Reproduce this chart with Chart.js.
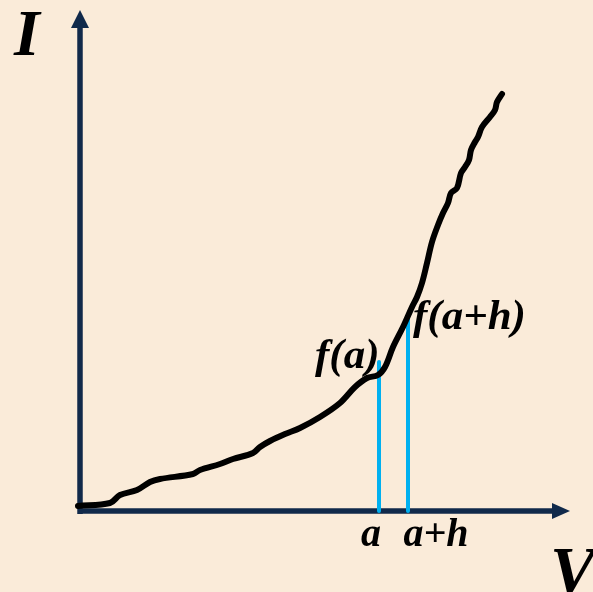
<!DOCTYPE html>
<html>
<head>
<meta charset="utf-8">
<script src="https://cdn.jsdelivr.net/npm/chart.js@4.4.0/dist/chart.umd.min.js"></script>
<style>
  html, body { margin: 0; padding: 0; background: #faebd9; }
  canvas { display: block; }
</style>
</head>
<body>
<canvas id="chart" width="593" height="592"></canvas>
<script>
// I-V curve (origin at the axes corner)
const curveV = [-2, 30, 40, 57, 70, 80, 113, 120, 140, 153, 173, 180, 190, 205, 220, 240, 260, 275, 287, 298, 305, 313, 323, 332, 337, 342, 347, 352, 358, 363, 368, 371, 377, 381, 385, 389, 391, 395, 398, 402, 410, 415, 417, 422];
const curveI = [5, 8, 16, 21, 29, 32, 37, 41, 47, 52, 58, 64, 70, 77, 83, 94, 108, 124, 133, 136, 144, 164, 184, 204, 214, 228, 248, 269, 286, 298, 308, 318, 323, 338, 344, 351, 361, 369, 374, 384, 394, 401, 409, 417];

// the two marked points a and a+h and their values
const markV = [299, 328];
const markI = [149, 194];
const markLabels = ['a', 'a+h'];
const valueLabels = ['f(a)', 'f(a+h)'];

// axis extents
const axisMaxV = 490;
const axisMaxI = 501;

const AXIS_COLOR = '#10294a';
const MARK_COLOR = '#00b0f0';

const toPoints = (xs, ys) => xs.map((x, i) => ({ x, y: ys[i] }));

const labelFont = (size) => `italic bold ${size}px "Liberation Serif", "DejaVu Serif", serif`;

// arrow heads and text labels drawn on top of the datasets
const pluginDecorations = {
  id: 'decorations',
  afterDatasetsDraw(chart) {
    const { ctx, scales: { x, y } } = chart;
    ctx.save();

    // arrow heads
    ctx.fillStyle = AXIS_COLOR;
    const x0 = x.getPixelForValue(0);
    const yTip = y.getPixelForValue(axisMaxI);
    ctx.beginPath();
    ctx.moveTo(x0, yTip);
    ctx.lineTo(x0 - 9, yTip + 18);
    ctx.lineTo(x0 + 9, yTip + 18);
    ctx.closePath();
    ctx.fill();

    const y0 = y.getPixelForValue(0);
    const xTip = x.getPixelForValue(axisMaxV);
    ctx.beginPath();
    ctx.moveTo(xTip, y0);
    ctx.lineTo(xTip - 18, y0 - 8);
    ctx.lineTo(xTip - 18, y0 + 8);
    ctx.closePath();
    ctx.fill();

    // text
    ctx.fillStyle = '#000';
    ctx.textBaseline = 'alphabetic';

    ctx.font = labelFont(66);
    ctx.textAlign = 'left';
    ctx.fillText('I', x0 - 66, y.getPixelForValue(axisMaxI) + 45);

    ctx.font = labelFont(68);
    ctx.fillText('V', xTip - 20, y0 + 82);

    ctx.font = labelFont(40);
    ctx.textAlign = 'center';
    markLabels.forEach((t, i) => {
      const px = x.getPixelForValue(markV[i]);
      const off = i === 0 ? -8 : 28;
      ctx.fillText(t, px + off, y0 + 35);
    });

    ctx.font = labelFont(43);
    ctx.textAlign = 'left';
    ctx.fillText(valueLabels[0], x.getPixelForValue(markV[0]) - 64, y.getPixelForValue(markI[0]) + 6);
    ctx.fillText(valueLabels[1], x.getPixelForValue(markV[1]) + 5, y.getPixelForValue(markI[1]) + 12);

    ctx.restore();
  },
};

const pluginBackground = {
  id: 'background',
  beforeDraw(chart) {
    const { ctx, width, height } = chart;
    ctx.save();
    ctx.fillStyle = '#faebd9';
    ctx.fillRect(0, 0, width, height);
    ctx.restore();
  },
};

const line = (data, color, width, order) => ({
  data,
  borderColor: color,
  borderWidth: width,
  showLine: true,
  pointRadius: 0,
  borderCapStyle: 'round',
  borderJoinStyle: 'round',
  clip: false,
  order,
});

const chart = new Chart(document.getElementById('chart').getContext('2d'), {
  type: 'scatter',
  data: {
    datasets: [
      { ...line(toPoints(curveV, curveI), '#000', 6, 0), tension: 0.35 },
      line([{ x: markV[0], y: 0 }, { x: markV[0], y: markI[0] }], MARK_COLOR, 4, 1),
      line([{ x: markV[1], y: 0 }, { x: markV[1], y: markI[1] }], MARK_COLOR, 4, 1),
      { ...line([{ x: 0, y: 0 }, { x: axisMaxV - 10, y: 0 }], AXIS_COLOR, 5.5, 2), borderCapStyle: 'butt' },
      { ...line([{ x: 0, y: -3 }, { x: 0, y: axisMaxI - 10 }], AXIS_COLOR, 5.5, 2), borderCapStyle: 'butt' },
    ],
  },
  options: {
    responsive: false,
    animation: false,
    devicePixelRatio: 1,
    layout: { padding: 0 },
    plugins: { legend: { display: false }, tooltip: { enabled: false } },
    scales: {
      x: { type: 'linear', display: false, min: -80, max: 513 },
      y: { type: 'linear', display: false, min: -81, max: 511 },
    },
  },
  plugins: [pluginBackground, pluginDecorations],
});
</script>
</body>
</html>
